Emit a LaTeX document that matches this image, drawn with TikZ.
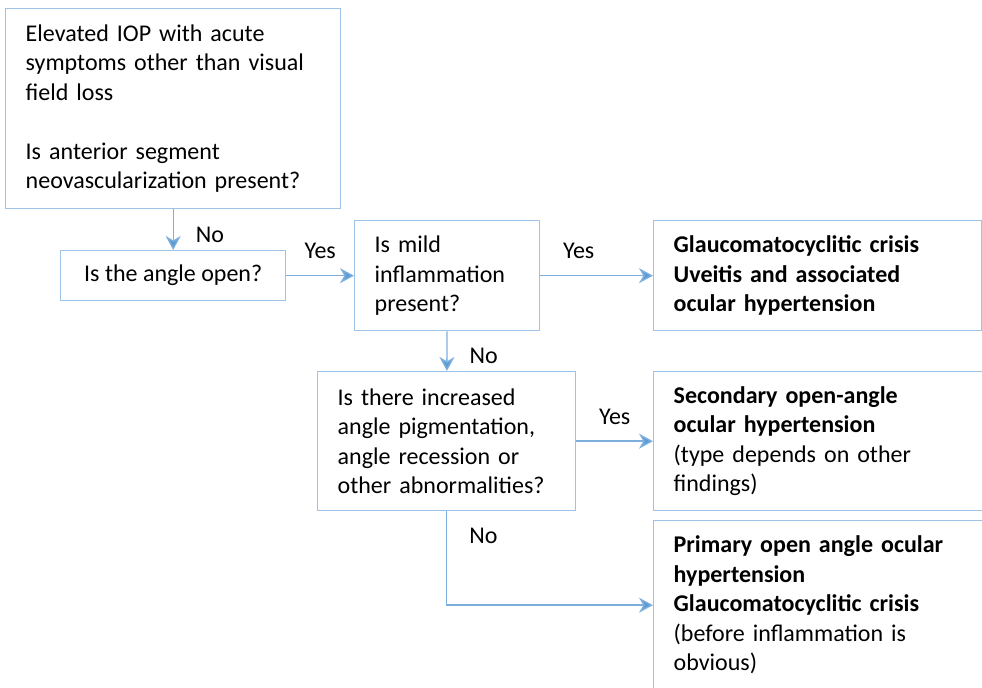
\documentclass[tikz,border=0pt]{standalone}
\usepackage{fontspec}
\setmainfont{Carlito}
\usetikzlibrary{arrows.meta, positioning}
\definecolor{boxblue}{HTML}{9DC3E6}
\definecolor{arrowblue}{HTML}{5B9BD5}
\begin{document}
\begin{tikzpicture}[
        x=0.5pt, y=-0.5pt,
        font=\fontsize{12}{14.75}\selectfont,
        box/.style={draw=boxblue, line width=0.7pt, anchor=north west, align=left,
            inner xsep=10pt, inner ysep=0pt},
        link/.style={draw=arrowblue!80, line width=0.7pt,
            -{Stealth[length=7pt, width=7.5pt, inset=2.2pt, fill=arrowblue]}},
        lab/.style={inner sep=0pt}
    ]
        \clip (0,0) rectangle (982,688);

        \node[box, text width=147.5pt, minimum height=100pt] (start) at (5,8)
            {Elevated IOP with acute\\ symptoms other than visual\\ field loss\\[14.75pt]
             Is anterior segment\\ neovascularization present?};
        \node[box, minimum width=112.5pt, minimum height=25pt] (open) at (60,250)
            {Is the angle open?};
        \node[box, text width=72.5pt, minimum height=55pt] (mild) at (354,220)
            {Is mild\\ inflammation\\ present?};
        \node[box, text width=144pt, minimum height=55pt, font=\fontsize{12}{14.75}\selectfont\bfseries] (uveitis) at (653,220)
            {Glaucomatocyclitic crisis\\ Uveitis and associated\\ ocular hypertension};
        \node[box, text width=109pt, minimum height=69.5pt] (pigment) at (317,371)
            {Is there increased\\ angle pigmentation,\\ angle recession or\\ other abnormalities?};
        \node[box, text width=152.5pt, minimum height=69.5pt] (secondary) at (653,371)
            {\textbf{Secondary open-angle}\\ \textbf{ocular hypertension}\\ (type depends on other\\ findings)};
        \node[box, text width=152.5pt, minimum height=84.5pt] (primary) at (653,520)
            {\textbf{Primary open angle ocular}\\ \textbf{hypertension}\\ \textbf{Glaucomatocyclitic crisis}\\ (before inflammation is\\ obvious)};

        \draw[link] (start) -- (open) node[lab, pos=0.64, right=11pt] {No};
        \draw[link] (open) -- (mild) node[lab, midway, above=8pt] {Yes};
        \draw[link] (mild) -- (uveitis) node[lab, pos=0.34, above=8pt] {Yes};
        \draw[link] (mild) -- (pigment) node[lab, pos=0.62, right=11pt] {No};
        \draw[link] (pigment) -- (secondary) node[lab, midway, above=8pt] {Yes};
        \draw[link] (pigment.south) |- (primary.west) node[lab, pos=0.13, right=11pt] {No};
    \end{tikzpicture}
\end{document}
